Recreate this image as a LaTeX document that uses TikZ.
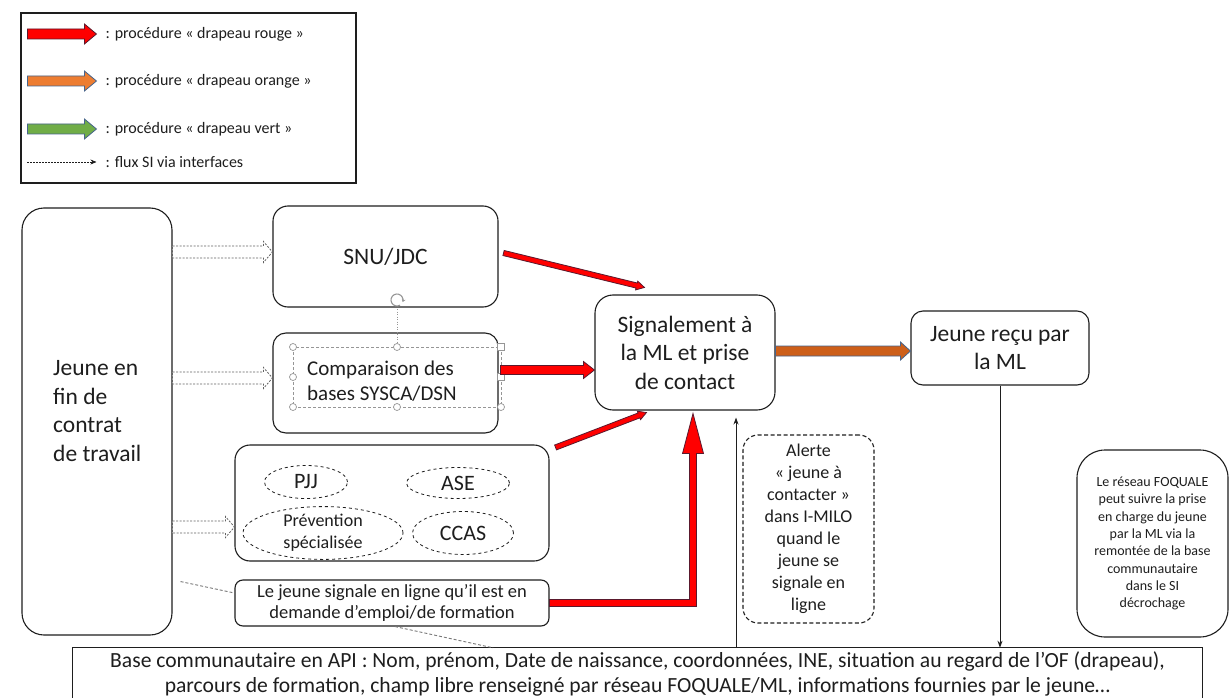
\documentclass[tikz,border=0pt]{standalone}
\usepackage{fontspec}
\setmainfont{Carlito}
\usetikzlibrary{calc,arrows.meta,shapes.geometric}

\definecolor{ink}{RGB}{30,30,30}
\definecolor{flagred}{RGB}{255,0,0}
\definecolor{flagorange}{RGB}{237,125,49}
\definecolor{flagorangedark}{RGB}{205,95,25}
\definecolor{flaggreen}{RGB}{112,173,71}
\definecolor{edgeblue}{RGB}{70,100,140}
\definecolor{redge}{RGB}{90,25,45}
\definecolor{handlegray}{RGB}{150,150,150}

\newcommand\fs[2]{\fontsize{#1}{#2}\selectfont}

% filled block arrow: style, start, tip, shaft half-width, head half-width, head length
\newcommand\blockarrow[6]{%
  \coordinate (ba-h) at ($(#3)!#6!(#2)$);
  \path[#1] ($(#2)!#4!90:(#3)$) -- ($(ba-h)!#4!90:(#3)$) -- ($(ba-h)!#5!90:(#3)$) -- (#3)
    -- ($(ba-h)!#5!-90:(#3)$) -- ($(ba-h)!#4!-90:(#3)$) -- ($(#2)!#4!-90:(#3)$) -- cycle;}

\tikzset{
  rbox/.style={draw=ink, line width=1.1pt, rounded corners=#1, inner sep=0pt, align=center, text=ink},
  rbox/.default=14pt,
  txt/.style={inner sep=0pt, text=ink},
  org/.style={ellipse, draw=ink, dashed, line width=0.8pt, inner sep=0pt, align=center, text=ink},
  redarrow/.style={fill=flagred, draw=redge, line width=0.8pt, line join=miter},
  orangearrow/.style={fill=flagorangedark, draw=edgeblue, line width=0.8pt, line join=miter},
  legorange/.style={fill=flagorange, draw=edgeblue, line width=0.8pt, line join=miter},
  leggreen/.style={fill=flaggreen, draw=edgeblue, line width=0.8pt, line join=miter},
  flux/.style={fill=white, draw=ink!70, line width=0.8pt, dash pattern=on 2pt off 1.5pt, line join=miter},
  thinarrow/.style={draw=ink, line width=1pt, -{Stealth[length=7pt,width=5pt]}},
  link/.style={draw=ink!60, line width=0.9pt, dash pattern=on 3pt off 2pt},
  handle/.style={draw=handlegray, fill=white, line width=0.7pt},
}

\begin{document}
\begin{tikzpicture}[x=1pt,y=-1pt]
\useasboundingbox[fill=white] (0,0) rectangle (1229,698);

% ---------- legend ----------
\node[draw=ink, line width=1.1pt, minimum width=335pt, minimum height=170pt, inner sep=0pt] (legend) at (188.5,98) {};
\coordinate (l1s) at ($(legend.west)+(7,-64)$);  \coordinate (l1e) at ($(legend.west)+(76,-64)$);
\coordinate (l2s) at ($(legend.west)+(7,-17)$);  \coordinate (l2e) at ($(legend.west)+(76,-17)$);
\coordinate (l3s) at ($(legend.west)+(7,31)$);   \coordinate (l3e) at ($(legend.west)+(76,31)$);
\coordinate (l4s) at ($(legend.west)+(7,64)$);   \coordinate (l4e) at ($(legend.west)+(76,64)$);
\blockarrow{redarrow}{l1s}{l1e}{5pt}{10pt}{12pt}
\blockarrow{legorange}{l2s}{l2e}{5pt}{10pt}{12pt}
\blockarrow{leggreen}{l3s}{l3e}{5pt}{10pt}{12pt}
\draw[draw=ink, line width=0.7pt, dash pattern=on 2pt off 1pt, -{Stealth[length=6pt,width=5pt]}] (l4s) -- (l4e);
\node[txt, anchor=west, font=\fs{16}{19}] (leg1) at ($(l1e)+(9,0)$) {: procédure « drapeau rouge »};
\node[txt, anchor=west, font=\fs{16}{19}] (leg2) at ($(l2e)+(9,0)$) {: procédure « drapeau orange »};
\node[txt, anchor=west, font=\fs{16}{19}] (leg3) at ($(l3e)+(9,0)$) {: procédure « drapeau vert »};
\node[txt, anchor=west, font=\fs{16}{19}] (leg4) at ($(l4e)+(9,0)$) {: flux SI via interfaces};

% ---------- boxes ----------
\node[rbox=22pt, minimum width=150pt, minimum height=427pt] (jeune) at (97,421.5) {};
\node[txt, anchor=west, align=left, font=\fs{23.5}{28.5}] (jeunetxt) at (53,411) {Jeune en\\fin de\\contrat\\de travail};

\node[rbox=15pt, minimum width=225pt, minimum height=101pt, font=\fs{23.5}{28.5}] (snu) at (385.5,256.5) {SNU/JDC};

\node[rbox=13pt, minimum width=225pt, minimum height=100pt] (comp) at (385.5,383) {};
\node[txt, anchor=west, align=left, font=\fs{21}{25}] (comptxt) at (307,381) {Comparaison des\\bases SYSCA/DSN};

\node[rbox=15pt, minimum width=314pt, minimum height=116pt] (grp) at (392,503) {};
\node[org, minimum width=83pt, minimum height=33pt, font=\fs{22}{24}] (pjj) at (306,482) {PJJ};
\node[org, minimum width=103pt, minimum height=31pt, font=\fs{22}{24}] (ase) at (458,483) {ASE};
\node[org, minimum width=160pt, minimum height=47pt, font=\fs{18}{22}] (prev) at (323,533) {Prévention\\spécialisée};
\node[org, minimum width=101pt, minimum height=43pt, font=\fs{22}{24}] (ccas) at (463,533) {CCAS};

\node[rbox=8pt, minimum width=314pt, minimum height=46pt, font=\fs{18.5}{21}] (lejeune) at (392,603)
  {Le jeune signale en ligne qu’il est en\\demande d’emploi/de formation};

\node[rbox=18pt, minimum width=180pt, minimum height=115pt, font=\fs{23.5}{28.5}] (sig) at (685,352.5)
  {Signalement à\\la ML et prise\\de contact};

\node[rbox=12pt, minimum width=178pt, minimum height=74pt, font=\fs{23.5}{28.5}] (recu) at (1000,348)
  {Jeune reçu par\\la ML};

\node[rbox=15pt, dash pattern=on 4pt off 2.5pt, minimum width=131pt, minimum height=188pt, font=\fs{18}{22}] (alerte) at (808.5,529)
  {Alerte\\« jeune à\\contacter »\\dans I-MILO\\quand le\\jeune se\\signale en\\ligne};

\node[rbox=28pt, minimum width=151pt, minimum height=187pt, font=\fs{14}{17.3}] (foq) at (1152.5,543.5)
  {Le réseau FOQUALE\\peut suivre la prise\\en charge du jeune\\par la ML via la\\remontée de la base\\communautaire\\dans le SI\\décrochage};

\node[txt, minimum width=1129pt, minimum height=52pt, align=center, font=\fs{21.6}{25.5}] (base) at (637.5,674)
  {Base communautaire en API : Nom, prénom, Date de naissance, coordonnées, INE, situation au regard de l’OF (drapeau),\\
   parcours de formation, champ libre renseigné par réseau FOQUALE/ML, informations fournies par le jeune…};
\draw[draw=ink, line width=1.1pt] ($(base.south west)+(0,-2.5)$) -- (base.north west) -- (base.north east) -- ($(base.south east)+(0,-2.5)$);

% ---------- selection frame around the comparison text ----------
\draw[draw=handlegray, line width=0.6pt, dash pattern=on 3pt off 2pt] (293,347) rectangle (501,407);
\draw[draw=handlegray, line width=0.6pt, dash pattern=on 1pt off 1.5pt] (397,309) -- (397,343.5);
\draw[draw=handlegray, line width=1.1pt, -{Stealth[length=3pt,width=4pt]}] (397,300) ++(60:6) arc[start angle=60, end angle=380, radius=6];
\foreach \p in {(293,347),(293,377),(293,407),(397,347),(397,407),(501,407)}
  \draw[handle] \p circle[radius=3.5];
\foreach \p in {(501,347),(501,377)}
  \draw[handle] \p ++(-3.5,-3.5) rectangle ++(7,7);

% ---------- interface flows ----------
\coordinate (d1e) at ($(snu.west)+(0,-4.5)$);  \coordinate (d1s) at (jeune.east |- d1e);
\coordinate (d2e) at ($(comp.west)+(0,-5)$);   \coordinate (d2s) at (jeune.east |- d2e);
\coordinate (d3e) at ($(grp.west)+(0,24)$);    \coordinate (d3s) at (jeune.east |- d3e);
\blockarrow{flux}{d1s}{d1e}{6pt}{10.5pt}{9pt}
\blockarrow{flux}{d2s}{d2e}{6pt}{10.5pt}{9pt}
\blockarrow{flux}{d3s}{d3e}{6pt}{10.5pt}{9pt}

% ---------- red-flag procedure ----------
\coordinate (r1s) at ($(snu.east)+(5,-3.5)$);        \coordinate (r1e) at ($(sig.north west)+(50,-7)$);
\blockarrow{redarrow}{r1s}{r1e}{2.6pt}{4.5pt}{8pt}
\coordinate (r2s) at ($(comp.east)+(2,-13)$);        \coordinate (r2e) at (sig.west |- r2s);
\blockarrow{redarrow}{r2s}{r2e}{4.5pt}{8.5pt}{11pt}
\coordinate (r3s) at ($(grp.north east)+(6,3)$);     \coordinate (r3e) at ($(sig.south west)+(52,2)$);
\blockarrow{redarrow}{r3s}{r3e}{2.6pt}{4.5pt}{8pt}
\coordinate (ltip) at ($(sig.south)+(8,3)$);
\coordinate (lcorner) at (ltip |- lejeune.east);
\path[redarrow] ($(lejeune.east)+(0,-3.5)$) -- ($(lcorner)+(-3.5,-3.5)$) -- ($(ltip)+(-3.5,40)$)
  -- ($(ltip)+(-10.5,40)$) -- (ltip) -- ($(ltip)+(10.5,40)$) -- ($(ltip)+(3.5,40)$)
  -- ($(lcorner)+(3.5,3.5)$) -- ($(lejeune.east)+(0,3.5)$) -- cycle;

% ---------- orange-flag procedure ----------
\coordinate (o1s) at ($(sig.east)+(0,-1.5)$);  \coordinate (o1e) at (recu.west |- o1s);
\blockarrow{orangearrow}{o1s}{o1e}{5pt}{9pt}{10pt}

% ---------- information-system flows ----------
\draw[thinarrow] (recu.south) -- (recu.south |- base.north);
\coordinate (t2e) at ($(sig.south)+(51,7)$);
\draw[thinarrow] (t2e |- base.north) -- (t2e);

\coordinate (k1s) at ($(jeune.south east)+(8,-54)$);  \coordinate (k1e) at ($(lejeune.west)+(0,-10)$);
\draw[link] (k1s) -- (k1e);
\coordinate (k2s) at ($(lejeune.south)+(3,0)$);       \coordinate (k2e) at ($(base.north)+(-144.5,0)$);
\draw[link] (k2s) -- (k2e);
\end{tikzpicture}
\end{document}
